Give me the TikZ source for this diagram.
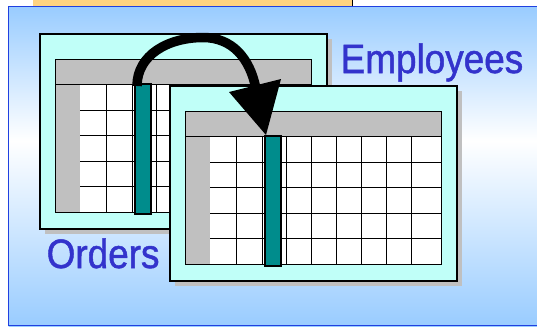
\documentclass[tikz,border=0pt]{standalone}
\usepackage{fontspec}
\setmainfont{Liberation Sans}
\newfontfamily\labelfont[FakeBold=1.2]{Liberation Sans}
\usepackage{graphicx}
\definecolor{panelblue}{RGB}{153,204,255}
\definecolor{panelborder}{RGB}{32,64,224}
\definecolor{topyellow}{RGB}{255,212,128}
\definecolor{tcyan}{RGB}{192,255,248}
\definecolor{hgray}{RGB}{192,192,192}
\definecolor{tealcol}{RGB}{0,140,140}
\definecolor{labelblue}{RGB}{51,51,204}
\pgfdeclareverticalshading{panelshade}{100bp}{color(0bp)=(panelblue); color(25bp)=(panelblue); color(54bp)=(white); color(75bp)=(panelblue); color(100bp)=(panelblue)}
\tikzset{
  frameline/.style={draw=black, line width=1.3pt},
  gridline/.style={draw=black, line width=0.9pt},
  label/.style={anchor=base west, inner sep=0pt, text=labelblue, font=\labelfont\fontsize{41}{41}\selectfont},
}
\newcommand\drawtable[3]{%
  \begin{scope}[shift={(#1,#2)}]
    \fill[hgray] (5,5) rectangle (292,200);
    \filldraw[fill=tcyan, frameline] (0,0) rectangle (287,195);
    \filldraw[fill=hgray, gridline, line width=1pt] (15,25) rectangle (271,50);
    \filldraw[fill=hgray, gridline, line width=1pt] (15,50) rectangle (40,178);
    \fill[white] (40,50) rectangle (271,178);
    \foreach \c in {66,92,116,141,166,191,216,241} \draw[gridline] (\c,50) -- (\c,178);
    \foreach \r in {76,101,127,152} \draw[gridline] (40,\r) -- (271,\r);
    \draw[gridline, line width=1pt] (15,50) rectangle (271,178);
    \filldraw[fill=tealcol, draw=black, line width=1.2pt] (95,50) rectangle (111,180);
    \coordinate (#3top) at (103,50);
    \coordinate (#3tip) at (96,49);
  \end{scope}%
}
\begin{document}
\begin{tikzpicture}[x=1pt,y=-1pt]
\useasboundingbox (0,0) rectangle (537,327);
\fill[white] (0,0) rectangle (537,327);
% top yellow tab
\fill[topyellow] (33,0) rectangle (352,6);
\draw[black, line width=1.2pt] (352.5,0) -- (352.5,6);
% blue panel
\shade[shading=panelshade] (8.5,6.5) rectangle (545,326);
\draw[panelborder, line width=1.5pt] (545,6.5) -- (8.5,6.5) -- (8.5,325.7) -- (545,325.7);
% tables
\drawtable{40}{34}{back}
\drawtable{170}{86}{front}
% arrow
\coordinate (arrowstart) at (137,86);
\coordinate (arrowtop) at (203,37.5);
\coordinate (arrowend) at (256,89);
\coordinate (headleft) at (229,92);
\coordinate (headright) at (281,79);
\draw[black, line width=9.5pt] (arrowstart) .. controls (137,55) and (168,37.5) .. (arrowtop) .. controls (232,37.5) and (250,58) .. (arrowend);
\fill[black] (headleft) -- (headright) -- (fronttip) -- cycle;
% labels
\node[label] (employees) at (340.5,73) {\scalebox{0.9}[1]{Employees}};
\node[label] (orders) at (46.5,268) {\scalebox{0.9}[1]{Orders}};
\end{tikzpicture}
\end{document}
